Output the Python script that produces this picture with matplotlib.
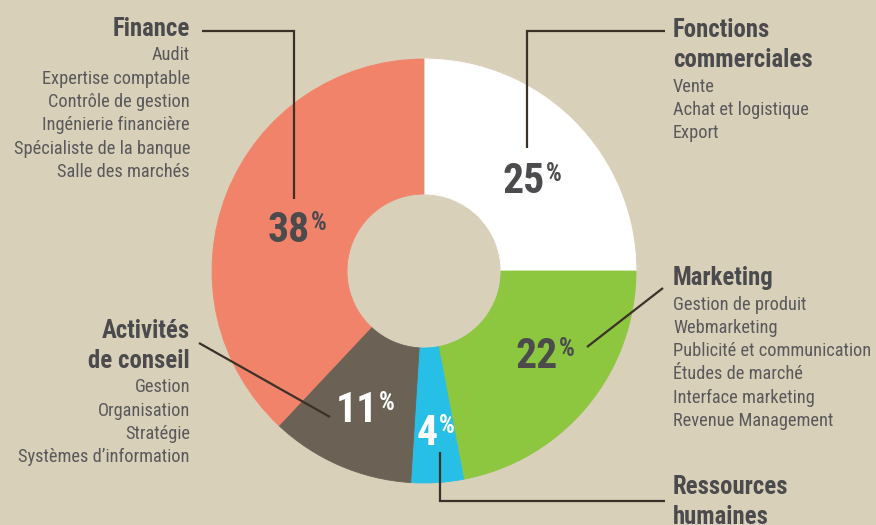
import matplotlib
matplotlib.use("Agg")
import matplotlib.pyplot as plt
from matplotlib import font_manager

# ---------------- data ----------------
categories = ["Fonctions commerciales", "Marketing", "Ressources humaines",
              "Activités de conseil", "Finance"]
values = [25, 22, 4, 11, 38]
slice_colors = ["#ffffff", "#8dc63f", "#27bfe6", "#6b6154", "#f2836b"]
pct_colors = ["#4b4b4d", "#4b4b4d", "#ffffff", "#ffffff", "#4b4b4d"]

headings = {
    "Fonctions commerciales": ["Fonctions", "commerciales"],
    "Marketing": ["Marketing"],
    "Ressources humaines": ["Ressources", "humaines"],
    "Activités de conseil": ["Activités", "de conseil"],
    "Finance": ["Finance"],
}
subitems = {
    "Fonctions commerciales": ["Vente", "Achat et logistique", "Export"],
    "Marketing": ["Gestion de produit", "Webmarketing", "Publicité et communication",
                  "Études de marché", "Interface marketing", "Revenue Management"],
    "Ressources humaines": [],
    "Activités de conseil": ["Gestion", "Organisation", "Stratégie",
                             "Systèmes d’information"],
    "Finance": ["Audit", "Expertise comptable", "Contrôle de gestion",
                "Ingénierie financière", "Spécialiste de la banque",
                "Salle des marchés"],
}

# ---------------- layout (pixel coords, y from top) ----------------
W, H = 876, 525
BG = "#d9d0ba"
CX, CY, R_OUT, R_IN = 424, 271, 212, 77

blocks = {
    "Finance": (190, 36, "right"),
    "Fonctions commerciales": (673, 37, "left"),
    "Marketing": (673, 285, "left"),
    "Activités de conseil": (190, 338, "right"),
    "Ressources humaines": (673, 494, "left"),
}
HEAD_STEP = 30
ITEM_STEP = 23.3
FIRST_ITEM_GAP = 24.5
HEAD_SIZE = 17.8
ITEM_SIZE = 13.2

pct_pos = {
    "Fonctions commerciales": (532, 178),
    "Marketing": (545, 353),
    "Ressources humaines": (436, 430),
    "Activités de conseil": (365, 407),
    "Finance": (297, 227),
}

leaders = [
    [(202, 31), (294, 31), (294, 199)],
    [(665, 31), (527, 31), (527, 148)],
    [(663, 288), (587, 347)],
    [(199, 343), (330, 417)],
    [(440, 452), (440, 501), (665, 501)],
]

names = {f.name for f in font_manager.fontManager.ttflist}
FONT = None
for cand in ["Roboto Condensed", "Archivo Narrow", "PT Sans Narrow",
             "IBM Plex Sans Condensed", "Liberation Sans Narrow"]:
    if cand in names:
        FONT = cand
        break
if FONT is None:
    FONT = "DejaVu Sans"
plt.rcParams["font.family"] = [FONT, "DejaVu Sans"]

HEAD_COLOR = "#4b4b4d"
ITEM_COLOR = "#59595b"
LINE_COLOR = "#3b3129"

fig = plt.figure(figsize=(W / 100, H / 100), dpi=100, facecolor=BG)
ax = fig.add_axes([0, 0, 1, 1])
ax.set_facecolor(BG)


def Y(p):
    return H - p


wedges, _ = ax.pie(values, colors=slice_colors, startangle=90, counterclock=False,
                   radius=R_OUT, center=(CX, Y(CY)),
                   wedgeprops=dict(width=R_OUT - R_IN, linewidth=0.6))
for w, c in zip(wedges, slice_colors):
    w.set_edgecolor(c)

ax.set_xlim(0, W)
ax.set_ylim(0, H)
ax.set_aspect("auto")
ax.axis("off")

for pts in leaders:
    xs = [p[0] for p in pts]
    ys = [Y(p[1]) for p in pts]
    ax.plot(xs, ys, color=LINE_COLOR, lw=1.6, solid_capstyle="butt",
            solid_joinstyle="miter", zorder=5)

for cat in categories:
    x, y0, ha = blocks[cat]
    y = y0
    for i, line in enumerate(headings[cat]):
        ax.text(x, Y(y), line, ha=ha, va="baseline", fontsize=HEAD_SIZE,
                fontweight="bold", color=HEAD_COLOR)
        if i < len(headings[cat]) - 1:
            y += HEAD_STEP
    y += FIRST_ITEM_GAP
    for item in subitems[cat]:
        ax.text(x, Y(y), item, ha=ha, va="baseline", fontsize=ITEM_SIZE,
                color=ITEM_COLOR)
        y += ITEM_STEP

fig.canvas.draw()
renderer = fig.canvas.get_renderer()
for cat, v, col in zip(categories, values, pct_colors):
    cx, cy = pct_pos[cat]
    tn = ax.text(0, 0, str(v), ha="left", va="baseline", fontsize=30,
                 fontweight="bold", color=col, zorder=6)
    tp = ax.text(0, 0, "%", ha="left", va="baseline", fontsize=18,
                 fontweight="bold", color=col, zorder=6)
    wn = tn.get_window_extent(renderer).width
    wp = tp.get_window_extent(renderer).width
    gap = 1
    start = cx - (wn + gap + wp) / 2
    tn.set_position((start, Y(cy + 15)))
    tp.set_position((start + wn + gap, Y(cy + 3)))

fig.savefig("out.png", dpi=100, facecolor=BG)
